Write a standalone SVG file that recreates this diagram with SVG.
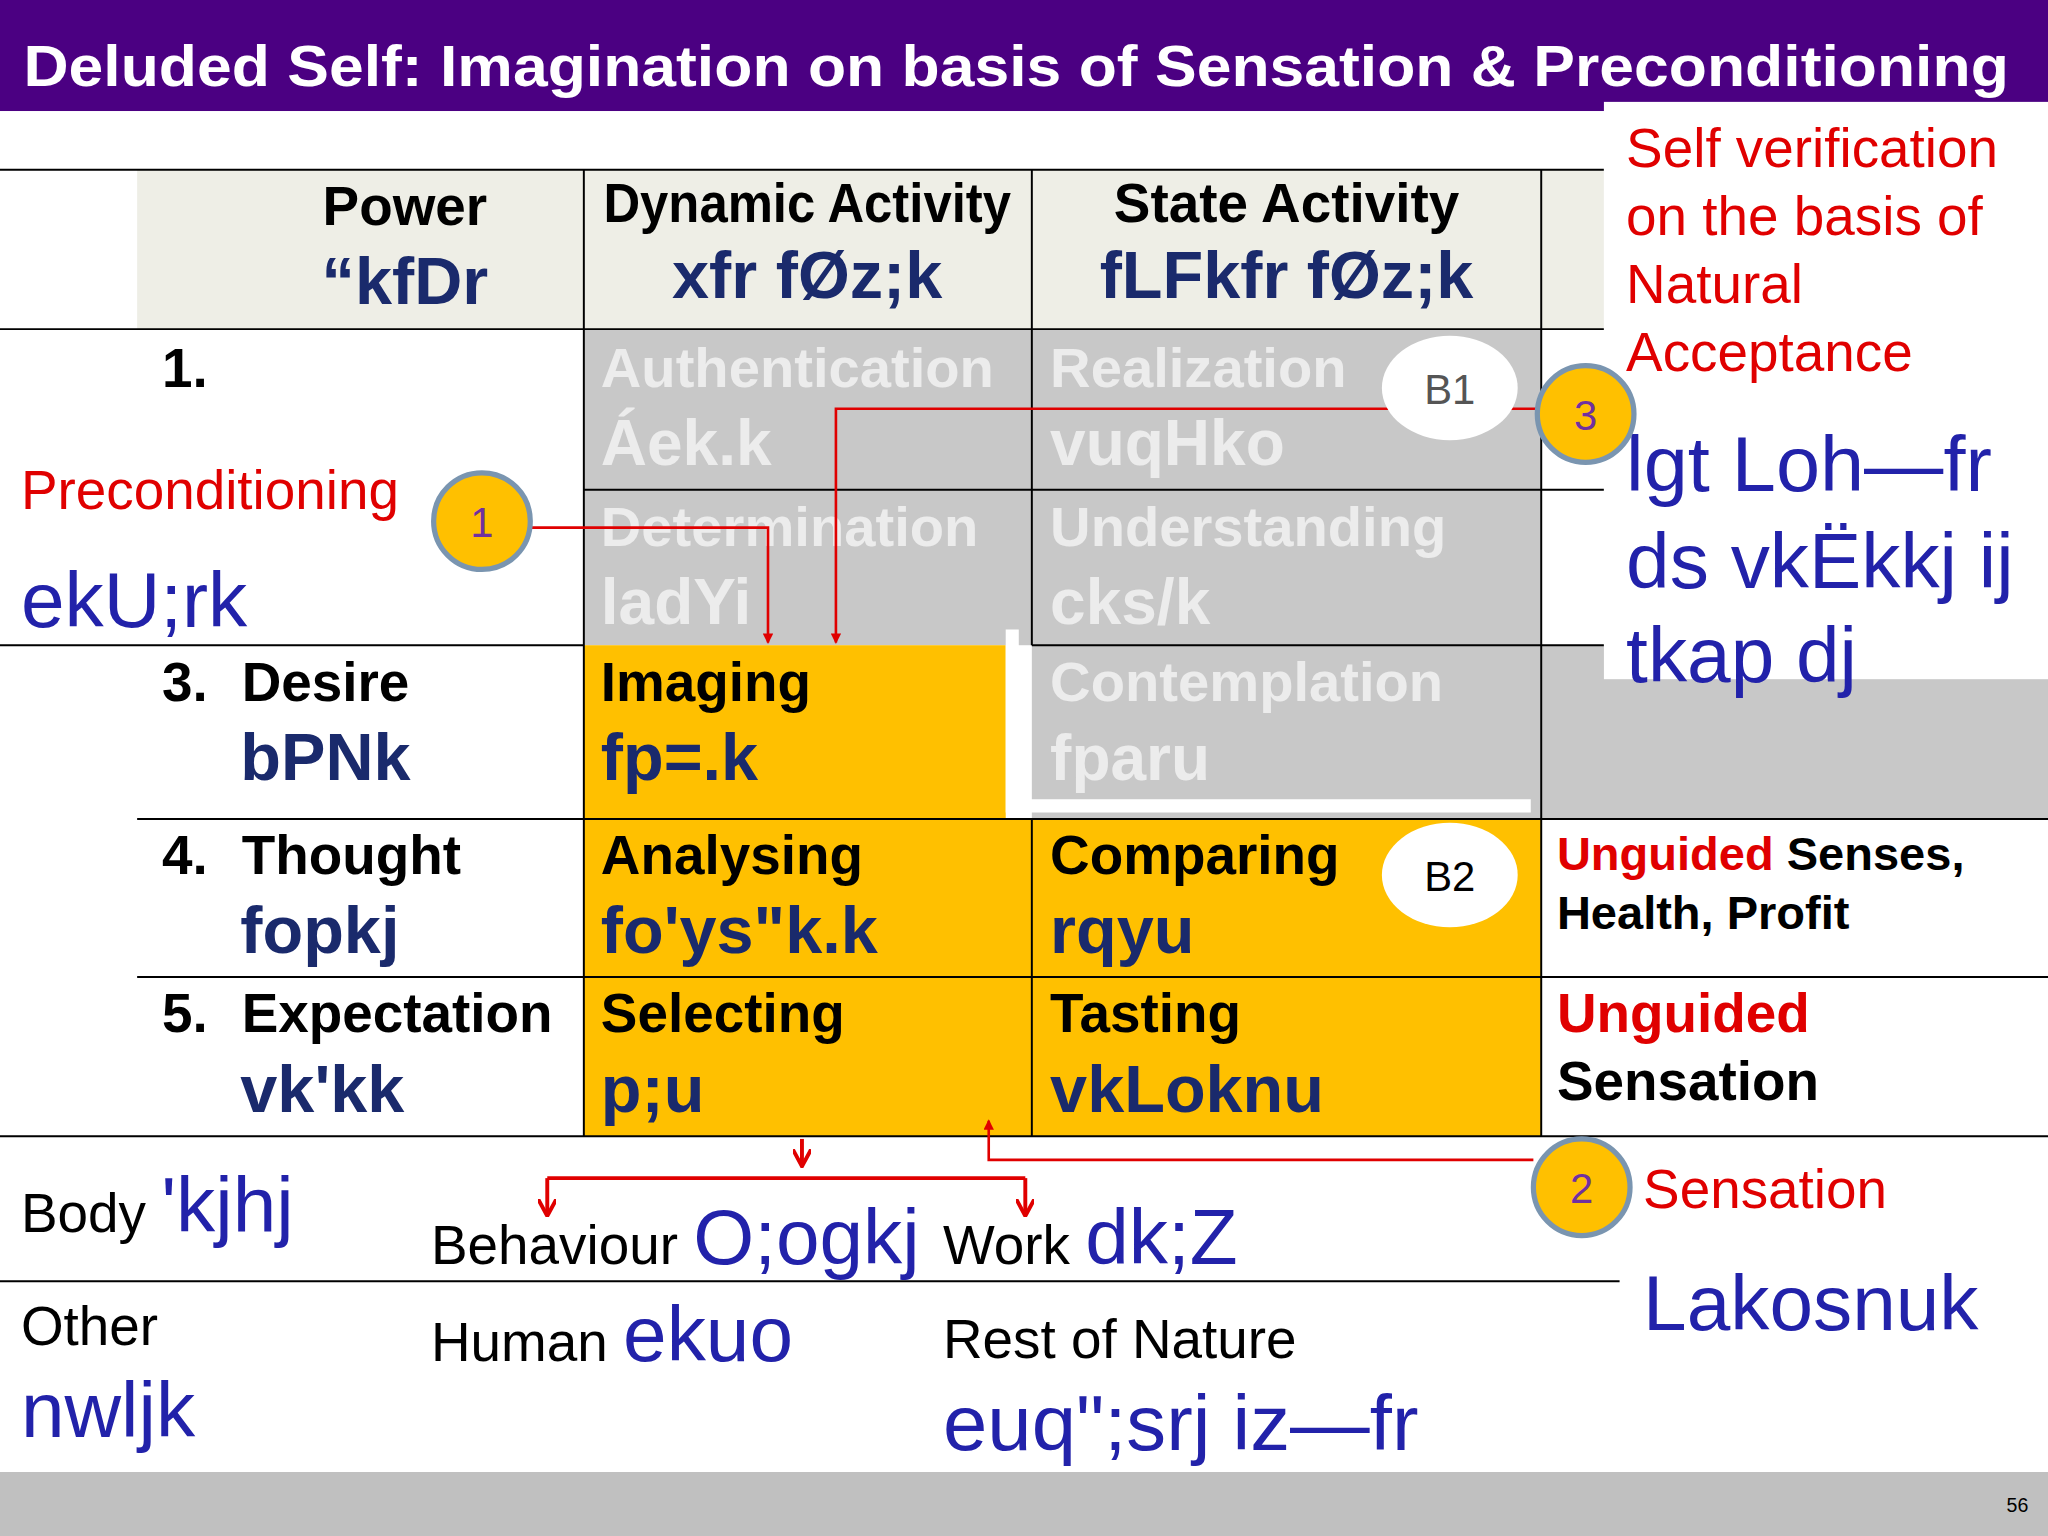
<svg xmlns="http://www.w3.org/2000/svg" width="2048" height="1536" viewBox="0 0 2048 1536">
<style>
text{font-family:"Liberation Sans",Arial,sans-serif}
.h{font-weight:bold;font-size:42px;fill:#000}
.hd{font-weight:bold;font-size:51px;fill:#1a2a6c}
.g1{font-weight:bold;font-size:43px;fill:#ececec}
.g2{font-weight:bold;font-size:49px;fill:#ececec}
.bl{font-size:60px;fill:#2222aa}
.rd{font-size:42px;fill:#e00000}
.ln{stroke:#000;stroke-width:1.5}
.rl{stroke:#e00000;stroke-width:2;fill:none}
.rl2{stroke:#e00000;stroke-width:3;fill:none}
.c{fill:#FFC000;stroke:#7a95b0;stroke-width:4}
.cn{font-size:32px;fill:#7030A0;text-anchor:middle}
</style>
<defs>
<marker id="a" markerWidth="8" markerHeight="8" refX="7" refY="4" orient="auto" markerUnits="userSpaceOnUse"><path d="M0,0L8,4L0,8z" fill="#e00000"/></marker>
<marker id="b" markerWidth="14" markerHeight="14" refX="12" refY="7" orient="auto" markerUnits="userSpaceOnUse"><path d="M0,0L13,7L0,14" fill="none" stroke="#e00000" stroke-width="3"/></marker>
</defs>
<g transform="scale(1.30612)">
<rect width="1568" height="1176" fill="#fff"/>
<rect width="1568" height="85" fill="#4B0082"/>
<text x="18" y="66" font-size="44" font-weight="bold" fill="#fff" textLength="1520" lengthAdjust="spacingAndGlyphs">Deluded Self: Imagination on basis of Sensation &amp; Preconditioning</text>
<rect y="1127" width="1568" height="49" fill="#c0c0c0"/>
<text x="1553" y="1158" font-size="15" text-anchor="end">56</text>
<g id="table">
<rect x="105" y="130" width="1123" height="122" fill="#eeeee6"/>
<rect x="447" y="252" width="733" height="242" fill="#c8c8c8"/>
<rect x="790" y="494" width="778" height="133" fill="#c8c8c8"/>
<rect x="447" y="494" width="323" height="133" fill="#FFC000"/>
<rect x="447" y="627" width="733" height="243" fill="#FFC000"/>
<path d="M775,482V617H1172" stroke="#fff" stroke-width="10" fill="none"/>
<path class="ln" d="M0,130H1228M0,252H1228M447,375H1228M0,494H447M790,494H1228M105,627H1568M105,748H1568M0,870H1568M447,130V870M790,130V494M790,627V870M1180,130V520M1180,520V870M0,981H1240"/>
</g>
<g id="r1" fill="#fff"><rect x="1228" y="78" width="340" height="442"/></g>
<text class="h" x="310" y="172" text-anchor="middle">Power</text>
<text class="hd" x="310" y="233" text-anchor="middle">“kfDr</text>
<text class="h" x="618" y="170" text-anchor="middle" textLength="312" lengthAdjust="spacingAndGlyphs">Dynamic Activity</text>
<text class="hd" x="618" y="228" text-anchor="middle">xfr fØz;k</text>
<text class="h" x="985" y="170" text-anchor="middle">State  Activity</text>
<text class="hd" x="985" y="228" text-anchor="middle">fLFkfr fØz;k</text>
<text class="h" x="124" y="296">1.</text>
<text class="rd" x="16" y="390" font-size="44">Preconditioning</text>
<text class="bl" x="16" y="480">ekU;rk</text>
<text class="g1" x="460" y="296">Authentication</text>
<text class="g2" x="460" y="356">Áek.k</text>
<text class="g1" x="804" y="296">Realization</text>
<text class="g2" x="804" y="356">vuqHko</text>
<text class="g1" x="460" y="418">Determination</text>
<text class="g2" x="460" y="478">ladYi</text>
<text class="g1" x="804" y="418">Understanding</text>
<text class="g2" x="804" y="478">cks/k</text>
<text class="g1" x="804" y="537">Contemplation</text>
<text class="g2" x="804" y="597">fparu</text>
<text class="h" x="124" y="537">3.</text><text class="h" x="185" y="537">Desire</text>
<text class="hd" x="184" y="597">bPNk</text>
<text class="h" x="460" y="537">Imaging</text>
<text class="hd" x="460" y="597">fp=.k</text>
<text class="h" x="124" y="669">4.</text><text class="h" x="185" y="669">Thought</text>
<text class="hd" x="184" y="730">fopkj</text>
<text class="h" x="460" y="669">Analysing</text>
<text class="hd" x="460" y="730">fo'ys"k.k</text>
<text class="h" x="804" y="669">Comparing</text>
<text class="hd" x="804" y="730">rqyu</text>
<text class="h" x="124" y="790">5.</text><text class="h" x="185" y="790">Expectation</text>
<text class="hd" x="184" y="851">vk'kk</text>
<text class="h" x="460" y="790">Selecting</text>
<text class="hd" x="460" y="851">p;u</text>
<text class="h" x="804" y="790">Tasting</text>
<text class="hd" x="804" y="851">vkLoknu</text>
<text x="1192" y="666" font-size="36" font-weight="bold"><tspan fill="#e00000">Unguided</tspan> Senses,</text>
<text x="1192" y="711" font-size="36" font-weight="bold">Health, Profit</text>
<text x="1192" y="790" font-size="42" font-weight="bold" fill="#e00000">Unguided</text>
<text x="1192" y="842" font-size="42" font-weight="bold">Sensation</text>
<text class="rd" x="1245" y="128" font-size="43">Self verification</text>
<text class="rd" x="1245" y="180" font-size="43">on the basis of</text>
<text class="rd" x="1245" y="232" font-size="43">Natural</text>
<text class="rd" x="1245" y="284" font-size="43">Acceptance</text>
<text class="bl" x="1245" y="376" font-size="62" textLength="280" lengthAdjust="spacingAndGlyphs">lgt Loh—fr</text>
<text class="bl" x="1245" y="450" font-size="62">ds vkËkkj ij</text>
<text class="bl" x="1245" y="522" font-size="62">tkap dj</text>
<text x="16" y="943" font-size="42">Body <tspan class="bl">'kjhj</tspan></text>
<text x="330" y="968" font-size="42">Behaviour <tspan class="bl">O;ogkj</tspan></text>
<text x="722" y="968" font-size="42">Work <tspan class="bl">dk;Z</tspan></text>
<text class="rd" x="1258" y="925" font-size="44">Sensation</text>
<text class="bl" x="1258" y="1018" font-size="62">Lakosnuk</text>
<text x="16" y="1030" font-size="42">Other</text>
<text class="bl" x="16" y="1100">nwljk</text>
<text x="330" y="1042" font-size="42">Human <tspan class="bl">ekuo</tspan></text>
<text x="722" y="1040" font-size="42">Rest of Nature</text>
<text class="bl" x="722" y="1110" font-size="62" textLength="364" lengthAdjust="spacingAndGlyphs">euq";srj iz—fr</text>
<g id="connectors">
<path class="rl" d="M407,404H588V492" marker-end="url(#a)"/>
<path class="rl" d="M1176,313H640V492" marker-end="url(#a)"/>
<path class="rl" d="M1174,888H757V858" marker-end="url(#a)"/>
<path class="rl2" d="M614,872V892" marker-end="url(#b)"/>
<path class="rl2" d="M419,902H785"/>
<path class="rl2" d="M419,902V930" marker-end="url(#b)"/>
<path class="rl2" d="M785,902V930" marker-end="url(#b)"/>
</g>
<g id="b1"><ellipse cx="1110" cy="297" rx="52" ry="40" fill="#fff"/><text x="1110" y="309" font-size="32" fill="#555" text-anchor="middle">B1</text></g>
<g id="b2"><ellipse cx="1110" cy="670" rx="52" ry="40" fill="#fff"/><text x="1110" y="682" font-size="32" fill="#000" text-anchor="middle">B2</text></g>
<g id="n1"><circle class="c" cx="369" cy="399" r="37"/><text class="cn" x="369" y="411">1</text></g>
<g id="n3"><circle class="c" cx="1214" cy="317" r="37"/><text class="cn" x="1214" y="329">3</text></g>
<g id="n2"><circle class="c" cx="1211" cy="909" r="37"/><text class="cn" x="1211" y="921">2</text></g>
</g>
</svg>
